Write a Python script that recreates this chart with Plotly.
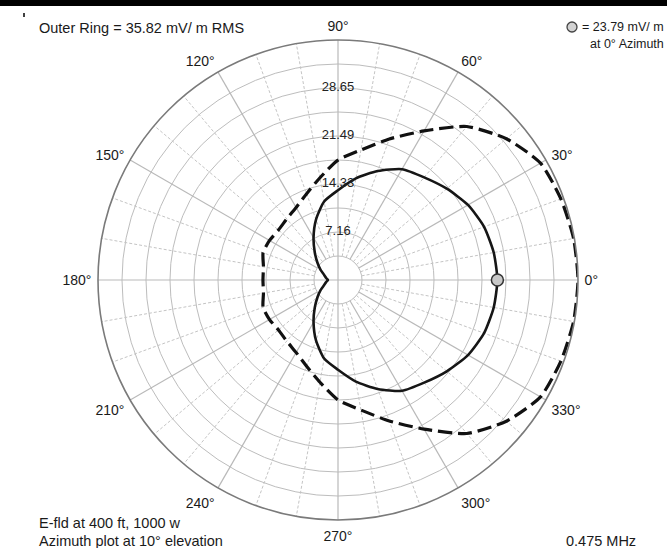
import plotly.graph_objects as go

# ---------------------------------------------------------------- data
OUTER_RING = 35.82          # mV/m at the outer ring
RING_STEP = 3.582           # one grid ring
REF_VALUE = 23.79           # marked value at 0 deg azimuth

azimuth = list(range(0, 360, 10)) + [360]

# field strength of the 0.475 MHz array, mV/m (solid curve)
field_solid = [23.79, 23.6, 23.2, 22.4, 21.2, 20.0, 19.1, 17.3, 15.4, 13.4,
               11.9, 9.6, 7.3, 5.4, 4.0, 3.0, 2.2, 1.8, 1.5,
               1.8, 2.2, 3.0, 4.0, 5.4, 7.3, 9.6, 11.9,
               13.4, 15.4, 17.3, 19.1, 20.0, 21.2, 22.4, 23.2, 23.6, 23.79]

# comparison pattern, mV/m (dashed curve)
field_dashed = [35.82, 35.7, 35.4, 34.9, 32.8, 29.9, 25.7, 22.4, 19.7, 17.9,
                15.5, 13.7, 12.5, 11.9, 11.6, 11.8, 11.9, 11.3, 11.2,
                11.3, 11.9, 11.8, 11.6, 11.9, 12.5, 13.7, 15.5,
                17.9, 19.7, 22.4, 25.7, 29.9, 32.8, 34.9, 35.4, 35.7, 35.82]

ring_values = [RING_STEP * k for k in range(1, 11)]
ring_labels = ["7.16", "14.33", "21.49", "28.65"]
ring_label_values = [7.164, 14.328, 21.492, 28.656]

tick_angles = list(range(0, 360, 30))
tick_text = [f"{a}°" for a in tick_angles]
spoke_angles = list(range(0, 360, 10))

W, H = 667, 548
FONT = "Liberation Sans, Arial, sans-serif"
CX, CY, R = 338, 280, 240   # plot centre and outer radius in pixels

fig = go.Figure()

# ---------------------------------------------------------------- spokes
for a in spoke_angles:
    major = a % 30 == 0
    start = 0 if a % 90 == 0 else RING_STEP
    fig.add_trace(go.Scatterpolar(
        r=[start, OUTER_RING], theta=[a, a], mode="lines",
        line=dict(color="#b9b9b9" if major else "#c4c4c4",
                  width=1.2 if major else 1,
                  dash="solid" if major else "3px,2px"),
        hoverinfo="skip", showlegend=False))

# ---------------------------------------------------------------- curves
fig.add_trace(go.Scatterpolar(
    r=field_dashed, theta=azimuth, mode="lines",
    line=dict(color="#111111", width=3.2, dash="14px,6px", shape="spline",
              smoothing=0.6),
    showlegend=False))
fig.add_trace(go.Scatterpolar(
    r=field_solid, theta=azimuth, mode="lines",
    line=dict(color="#161616", width=2.6, shape="spline", smoothing=0.6),
    showlegend=False))
fig.add_trace(go.Scatterpolar(
    r=[REF_VALUE], theta=[0], mode="markers",
    marker=dict(size=12, color="#c8c8c8", line=dict(color="#333333", width=1.5)),
    showlegend=False))

# ring value labels along the 90 deg spoke
fig.add_trace(go.Scatterpolar(
    r=ring_label_values, theta=[90] * 4, mode="text", text=ring_labels,
    textfont=dict(family=FONT, size=13, color="#222222"),
    showlegend=False, hoverinfo="skip"))

fig.update_layout(
    width=W, height=H, autosize=False,
    margin=dict(l=0, r=0, t=0, b=0),
    paper_bgcolor="white", plot_bgcolor="white",
    font=dict(family=FONT, color="#1a1a1a"),
    polar=dict(
        domain=dict(x=[(CX - R) / W, (CX + R) / W],
                    y=[(H - CY - R) / H, (H - CY + R) / H]),
        bgcolor="white",
        radialaxis=dict(range=[0, OUTER_RING], tickvals=ring_values,
                        showticklabels=False, ticks="", showline=False,
                        gridcolor="#bdbdbd", gridwidth=1.2),
        angularaxis=dict(rotation=0, direction="counterclockwise",
                         tickvals=tick_angles, ticktext=tick_text,
                         tickfont=dict(family=FONT, size=14, color="#1a1a1a"),
                         ticks="outside", ticklen=3, tickcolor="rgba(0,0,0,0)",
                         showgrid=False, showline=True,
                         linecolor="#7a7a7a", linewidth=1.6),
    ),
)


def note(x, y, text, anchor="left", size=14.5):
    fig.add_annotation(x=x / W, y=1 - y / H, xref="paper", yref="paper",
                       text=text, showarrow=False, xanchor=anchor,
                       yanchor="middle",
                       font=dict(family=FONT, size=size, color="#1a1a1a"))


note(37, 28, "Outer Ring = 35.82 mV/ m RMS")
note(666, 27, "= 23.79 mV/ m", anchor="right", size=12.5)
note(666, 44, "at 0° Azimuth", anchor="right", size=12.5)
note(37, 523, "E-fld at 400 ft, 1000 w")
note(37, 541, "Azimuth plot at 10° elevation")
note(638, 541, "0.475 MHz", anchor="right")

# legend dot next to the reference value
fig.add_shape(type="circle", xref="paper", yref="paper",
              x0=(572 - 5) / W, x1=(572 + 5) / W,
              y0=1 - (27 + 5) / H, y1=1 - (27 - 5) / H,
              fillcolor="#d2d2d2", line=dict(color="#444444", width=1.3))

# black band across the top edge and the small tick below it
fig.add_shape(type="rect", xref="paper", yref="paper",
              x0=0, x1=1, y0=1 - 6 / H, y1=1,
              fillcolor="black", line=dict(width=0))
fig.add_shape(type="line", xref="paper", yref="paper",
              x0=24 / W, x1=24 / W, y0=1 - 17 / H, y1=1 - 13 / H,
              line=dict(color="black", width=1.5))

fig.write_html("out.html")
